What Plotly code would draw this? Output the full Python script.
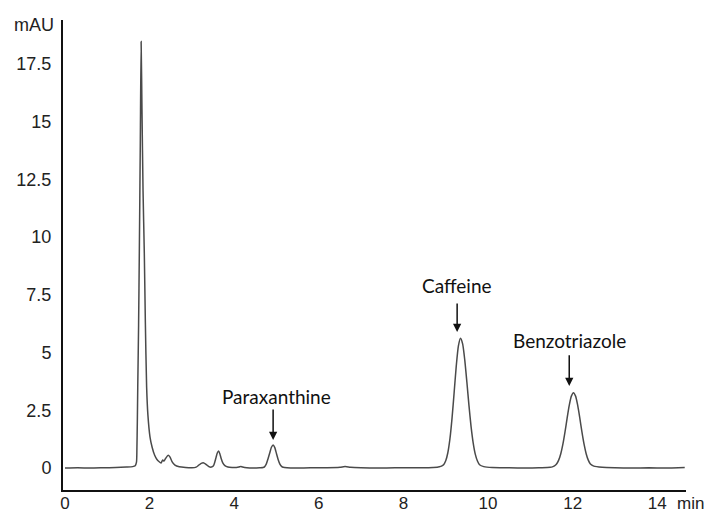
import plotly.graph_objects as go

# Retention time (min) and detector signal (mAU)
time_min = [
    0.00, 0.30, 0.60, 0.90, 1.20, 1.45, 1.60, 1.66, 1.69, 1.70, 1.71, 1.72, 1.74, 1.757, 1.78, 1.80,
    1.82, 1.845, 1.875, 1.90, 1.93, 1.96, 2.01, 2.06, 2.12, 2.17, 2.22, 2.27, 2.31, 2.34, 2.38,
    2.44, 2.48, 2.53, 2.60, 2.70, 2.85, 3.00, 3.10, 3.16, 3.22, 3.28, 3.34, 3.40, 3.46, 3.51,
    3.54, 3.57, 3.60, 3.63, 3.66, 3.69, 3.73, 3.78, 3.85, 3.95, 4.05, 4.11, 4.15, 4.20, 4.30,
    4.45, 4.60, 4.68, 4.72, 4.76, 4.80, 4.84, 4.88, 4.92, 4.96, 5.00, 5.04, 5.08, 5.12, 5.16,
    5.25, 5.45, 5.80, 6.20, 6.50, 6.62, 6.75, 7.00, 7.40, 7.80, 8.20, 8.50, 8.70, 8.80, 8.85,
    8.90, 8.95, 9.00, 9.05, 9.10, 9.15, 9.20, 9.25, 9.30, 9.35, 9.40, 9.45, 9.50, 9.55, 9.60,
    9.65, 9.70, 9.75, 9.80, 9.90, 10.10, 10.50, 10.90, 11.20, 11.40, 11.47, 11.52, 11.57,
    11.62, 11.67, 11.72, 11.77, 11.82, 11.87, 11.92, 11.97, 12.02, 12.07, 12.12, 12.17,
    12.22, 12.27, 12.32, 12.37, 12.42, 12.50, 12.70, 13.00, 13.40, 13.80, 14.20, 14.50, 14.65,
]
signal_mau = [
    0.00, 0.01, 0.00, 0.01, 0.02, 0.04, 0.06, 0.10, 0.25, 0.80, 2.00, 3.50, 6.20, 9.30, 14.00, 18.46,
    15.50, 12.00, 9.30, 6.30, 3.50, 2.30, 1.34, 0.90, 0.55, 0.38, 0.28, 0.22, 0.35, 0.30, 0.42,
    0.55, 0.48, 0.28, 0.12, 0.05, 0.02, 0.01, 0.04, 0.12, 0.20, 0.22, 0.15, 0.06, 0.04, 0.10,
    0.25, 0.45, 0.65, 0.74, 0.62, 0.42, 0.22, 0.10, 0.04, 0.02, 0.02, 0.04, 0.07, 0.04, 0.01,
    0.00, 0.01, 0.02, 0.06, 0.18, 0.40, 0.65, 0.90, 1.00, 0.88, 0.62, 0.36, 0.17, 0.07, 0.03,
    0.01, 0.00, 0.01, 0.01, 0.03, 0.06, 0.03, 0.01, 0.00, 0.01, 0.01, 0.01, 0.02, 0.03, 0.05,
    0.08, 0.14, 0.31, 0.66, 1.27, 2.17, 3.29, 4.43, 5.29, 5.62, 5.37, 4.68, 3.72, 2.70, 1.78,
    1.08, 0.59, 0.30, 0.14, 0.06, 0.02, 0.01, 0.00, 0.01, 0.02, 0.03, 0.05, 0.09, 0.17,
    0.34, 0.62, 1.03, 1.56, 2.16, 2.71, 3.11, 3.26, 3.11, 2.71, 2.16, 1.56, 1.03,
    0.62, 0.34, 0.17, 0.08, 0.03, 0.01, 0.00, 0.01, 0.00, 0.01, 0.02, 0.01, 0.00,
]

# Peak labels (name, arrow x, arrow tail, arrow head, label position)
peak_names = ["Paraxanthine", "Caffeine", "Benzotriazole"]
peak_times = [4.92, 9.27, 11.92]
arrow_tail = [2.60, 7.19, 4.94]
arrow_head = [1.21, 5.89, 3.55]
label_x = [5.01, 9.27, 11.92]
label_y = [3.09, 7.92, 5.50]

x_ticks = [0, 2, 4, 6, 8, 10, 12, 14]
y_ticks = [0, 2.5, 5, 7.5, 10, 12.5, 15, 17.5]
y_tick_text = ["0", "2.5", "5", "7.5", "10", "12.5", "15", "17.5"]

fig = go.Figure()
fig.add_trace(go.Scatter(
    x=time_min, y=signal_mau, mode="lines",
    line=dict(color="#4a4a4a", width=1.5, shape="spline", smoothing=0.6),
    showlegend=False, hoverinfo="skip",
))

tick_font = dict(family="Liberation Sans, Arial, sans-serif", size=18, color="#222222")
xtick_font = dict(family="Liberation Sans, Arial, sans-serif", size=17, color="#222222")
label_font = dict(family="Lato, Open Sans, sans-serif", size=19, color="#111111")

for name, px, tail, head, lx, ly in zip(peak_names, peak_times, arrow_tail, arrow_head, label_x, label_y):
    fig.add_annotation(x=px, y=head, ax=px, ay=tail, axref="x", ayref="y",
                       xref="x", yref="y", text="", showarrow=True,
                       arrowhead=2, arrowsize=1.1, arrowwidth=1.5, arrowcolor="#111111")
    fig.add_annotation(x=lx, y=ly, xref="x", yref="y", text=name, showarrow=False,
                       font=label_font, xanchor="center", yanchor="middle")

fig.add_annotation(xref="paper", yref="paper", x=0, y=1, xanchor="right", yanchor="middle",
                   xshift=-7, yshift=-5, text="mAU", showarrow=False, font=tick_font)
fig.add_annotation(xref="paper", yref="paper", x=0.983, y=0, xanchor="left", yanchor="middle",
                   yshift=-13, text="min", showarrow=False, font=xtick_font)

fig.update_layout(
    width=711, height=513,
    margin=dict(l=63, r=25, t=20, b=23, autoexpand=False),
    paper_bgcolor="white", plot_bgcolor="white",
    xaxis=dict(range=[-0.047, 14.68], tickvals=x_ticks, showgrid=False, zeroline=False,
               showline=True, linecolor="#111111", linewidth=2, ticks="", automargin=False,
               ticklabelstandoff=-3, tickfont=xtick_font),
    yaxis=dict(range=[-0.952, 19.39], tickvals=y_ticks, ticktext=y_tick_text,
               showgrid=False, zeroline=False, showline=True, linecolor="#111111",
               linewidth=2, ticks="", automargin=False, ticklabelstandoff=6, tickfont=tick_font),
)

fig.write_html("out.html", config={"displayModeBar": False},
               post_script="document.body.style.margin='0px';document.body.style.overflow='hidden';")
